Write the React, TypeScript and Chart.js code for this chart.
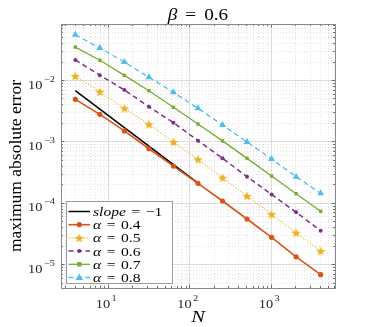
import React, { useEffect, useRef } from "react";
import { Chart, registerables } from "chart.js";

Chart.register(...registerables);

const N = [4, 8, 16, 32, 64, 128, 256, 512, 1024, 2048, 4096];
const slopeN = [4, 128];
const slopeErr = [6.7e-3, 2.09e-4];
const err04 = [4.85e-3, 2.76e-3, 1.48e-3, 7.6e-4, 3.97e-4, 2.08e-4, 1.07e-4, 5.45e-5, 2.74e-5, 1.32e-5, 6.75e-6];
const err05 = [1.16e-2, 6.45e-3, 3.46e-3, 1.9e-3, 9.8e-4, 5.1e-4, 2.57e-4, 1.29e-4, 6.5e-5, 3.26e-5, 1.64e-5];
const err06 = [2.12e-2, 1.2e-2, 6.88e-3, 3.67e-3, 2.02e-3, 1.03e-3, 5.3e-4, 2.66e-4, 1.37e-4, 7.0e-5, 3.52e-5];
const err07 = [3.44e-2, 2.1e-2, 1.19e-2, 6.7e-3, 3.59e-3, 1.92e-3, 1.02e-3, 5.3e-4, 2.73e-4, 1.41e-4, 7.3e-5];
const err08 = [5.47e-2, 3.32e-2, 1.96e-2, 1.11e-2, 6.3e-3, 3.46e-3, 1.85e-3, 9.8e-4, 5.16e-4, 2.66e-4, 1.43e-4];

const xTickExps = [1, 2, 3];
const yTickExps = [-5, -4, -3, -2];
const xMin = 2.67;
const xMax = 6144;
const yMin = 4.1e-6;
const yMax = 0.0817;

const titleParts = [{ t: "β", it: true }, { t: "=", it: false, eq: true }, { t: "0.6", it: false }];
const xLabel = "N";
const yLabel = "maximum absolute error";

const legendEntries = [
  [{ t: "slope", it: true }, { t: "=", it: false, eq: true }, { t: "−1", it: false }],
  [{ t: "α", it: true }, { t: "=", it: false, eq: true }, { t: "0.4", it: false }],
  [{ t: "α", it: true }, { t: "=", it: false, eq: true }, { t: "0.5", it: false }],
  [{ t: "α", it: true }, { t: "=", it: false, eq: true }, { t: "0.6", it: false }],
  [{ t: "α", it: true }, { t: "=", it: false, eq: true }, { t: "0.7", it: false }],
  [{ t: "α", it: true }, { t: "=", it: false, eq: true }, { t: "0.8", it: false }],
];
const seriesLabels = ["slope = −1", "α = 0.4", "α = 0.5", "α = 0.6", "α = 0.7", "α = 0.8"];

const COLORS = ["#000000", "#D95319", "#EDB120", "#7E2F8E", "#77AC30", "#4DBEEE"];
const DASHES: number[][] = [[], [], [1.5, 1.5], [5, 3.5], [], [5, 3.5]];
const WIDTHS = [1.5, 1.6, 1, 1.5, 1.3, 1.3];

const SERIF = '"Liberation Serif", "DejaVu Serif", serif';

type Part = { t: string; it: boolean; eq?: boolean };

function partsWidth(ctx: CanvasRenderingContext2D, parts: Part[], size: number, sx: number, gap: number) {
  let w = 0;
  parts.forEach((p) => {
    ctx.font = `${p.it ? "italic " : ""}${size}px ${SERIF}`;
    w += ctx.measureText(p.t).width * sx;
    if (p.eq) w += 2 * gap;
  });
  return w;
}

function drawParts(ctx: CanvasRenderingContext2D, parts: Part[], x: number, y: number, size: number, sx: number, gap: number, align: "left" | "center") {
  const total = partsWidth(ctx, parts, size, sx, gap);
  let cx = align === "center" ? x - total / 2 : x;
  ctx.save();
  ctx.textAlign = "left";
  parts.forEach((p) => {
    ctx.font = `${p.it ? "italic " : ""}${size}px ${SERIF}`;
    const w = ctx.measureText(p.t).width * sx;
    if (p.eq) cx += gap;
    ctx.save();
    ctx.translate(cx, y);
    ctx.scale(sx, 1);
    ctx.fillText(p.t, 0, 0);
    ctx.restore();
    cx += w;
    if (p.eq) cx += gap;
  });
  ctx.restore();
}

function makeStar(color: string, size: number) {
  const cv = document.createElement("canvas");
  cv.width = size;
  cv.height = size;
  const c = cv.getContext("2d")!;
  const cx = size / 2, cy = size / 2 + 0.5, R = size / 2, r = R * 0.42;
  c.beginPath();
  for (let i = 0; i < 10; i++) {
    const a = -Math.PI / 2 + (i * Math.PI) / 5;
    const rr = i % 2 === 0 ? R : r;
    const px = cx + rr * Math.cos(a), py = cy + rr * Math.sin(a);
    if (i === 0) c.moveTo(px, py); else c.lineTo(px, py);
  }
  c.closePath();
  c.fillStyle = color;
  c.fill();
  return cv;
}

function drawMarker(ctx: CanvasRenderingContext2D, idx: number, x: number, y: number, star: HTMLCanvasElement) {
  const col = COLORS[idx];
  ctx.save();
  ctx.fillStyle = col;
  if (idx === 1) {
    ctx.beginPath(); ctx.arc(x, y, 2.6, 0, Math.PI * 2); ctx.fill();
  } else if (idx === 2) {
    ctx.drawImage(star, x - star.width / 2, y - star.height / 2);
  } else if (idx === 3) {
    ctx.beginPath(); ctx.arc(x, y, 2, 0, Math.PI * 2); ctx.fill();
  } else if (idx === 4) {
    ctx.fillRect(x - 2.2, y - 2.2, 4.4, 4.4);
  } else if (idx === 5) {
    ctx.beginPath(); ctx.moveTo(x, y - 4); ctx.lineTo(x + 3.8, y + 2.6); ctx.lineTo(x - 3.8, y + 2.6); ctx.closePath(); ctx.fill();
  }
  ctx.restore();
}

function drawPow(ctx: CanvasRenderingContext2D, exp: number, x: number, yBase: number, align: "right" | "center") {
  const base = "10";
  const ex = exp < 0 ? "−" + Math.abs(exp) : String(exp);
  const sb = 12.5, sxb = 1.15, se = 9, sxe = 1.15;
  ctx.font = `${sb}px ${SERIF}`;
  const wb = ctx.measureText(base).width * sxb;
  ctx.font = `${se}px ${SERIF}`;
  const we = ctx.measureText(ex).width * sxe;
  const total = wb + 1.5 + we;
  const x0 = align === "right" ? x - total : x - total / 2;
  ctx.save();
  ctx.textAlign = "left";
  ctx.textBaseline = "alphabetic";
  ctx.font = `${sb}px ${SERIF}`;
  ctx.save(); ctx.translate(x0, yBase); ctx.scale(sxb, 1); ctx.fillText(base, 0, 0); ctx.restore();
  ctx.font = `${se}px ${SERIF}`;
  ctx.save(); ctx.translate(x0 + wb + 1.5, yBase - 7); ctx.scale(sxe, 1); ctx.fillText(ex, 0, 0); ctx.restore();
  ctx.restore();
}

export default function App() {
  const ref = useRef<HTMLCanvasElement | null>(null);

  useEffect(() => {
    if (!ref.current) return;
    const star = makeStar(COLORS[2], 10);

    const mk = (xs: number[], ys: number[]) => xs.map((x, i) => ({ x, y: ys[i] }));
    const series = [
      mk(slopeN, slopeErr),
      mk(N, err04),
      mk(N, err05),
      mk(N, err06),
      mk(N, err07),
      mk(N, err08),
    ];

    const pointStyles: any[] = [false, "circle", star, "circle", "rect", "triangle"];
    const pointRadius = [0, 2.6, 5, 2, 2.4, 4];

    const datasets = series.map((d, i) => ({
      label: seriesLabels[i],
      data: d,
      borderColor: COLORS[i],
      backgroundColor: COLORS[i],
      borderWidth: WIDTHS[i],
      borderDash: DASHES[i],
      pointStyle: pointStyles[i],
      pointRadius: pointRadius[i],
      pointBorderWidth: 0,
      pointBackgroundColor: COLORS[i],
      pointBorderColor: COLORS[i],
      tension: 0,
      order: 6 - i,
    }));

    const framePlugin = {
      id: "frame",
      beforeDatasetsDraw(chart: any) {
        const ctx: CanvasRenderingContext2D = chart.ctx;
        const { left, right, top, bottom } = chart.chartArea;
        const xs = chart.scales.x, ys = chart.scales.y;
        ctx.save();
        ctx.fillStyle = "#ffffff";
        ctx.fillRect(left, top, right - left, bottom - top);
        ctx.lineWidth = 1;
        ctx.strokeStyle = "#e2e2e2";
        ctx.setLineDash([1, 2]);
        for (let d = 0; d <= 3; d++) {
          for (let m = 2; m <= 9; m++) {
            const v = m * Math.pow(10, d);
            if (v < xMin || v > xMax) continue;
            const px = Math.round(xs.getPixelForValue(v)) + 0.5;
            ctx.beginPath(); ctx.moveTo(px, top); ctx.lineTo(px, bottom); ctx.stroke();
          }
        }
        for (let d = -6; d <= -2; d++) {
          for (let m = 2; m <= 9; m++) {
            const v = m * Math.pow(10, d);
            if (v < yMin || v > yMax) continue;
            const py = Math.round(ys.getPixelForValue(v)) + 0.5;
            ctx.beginPath(); ctx.moveTo(left, py); ctx.lineTo(right, py); ctx.stroke();
          }
        }
        ctx.setLineDash([]);
        ctx.strokeStyle = "#dcdcdc";
        xTickExps.forEach((e) => {
          const px = Math.round(xs.getPixelForValue(Math.pow(10, e))) + 0.5;
          ctx.beginPath(); ctx.moveTo(px, top); ctx.lineTo(px, bottom); ctx.stroke();
        });
        yTickExps.forEach((e) => {
          const py = Math.round(ys.getPixelForValue(Math.pow(10, e))) + 0.5;
          ctx.beginPath(); ctx.moveTo(left, py); ctx.lineTo(right, py); ctx.stroke();
        });
        ctx.restore();
      },
      afterDatasetsDraw(chart: any) {
        const ctx: CanvasRenderingContext2D = chart.ctx;
        const { left, right, top, bottom } = chart.chartArea;
        const xs = chart.scales.x, ys = chart.scales.y;
        ctx.save();
        ctx.strokeStyle = "#707070";
        ctx.lineWidth = 1;
        const tickX = (v: number, len: number) => {
          const px = Math.round(xs.getPixelForValue(v)) + 0.5;
          ctx.beginPath();
          ctx.moveTo(px, bottom); ctx.lineTo(px, bottom - len);
          ctx.moveTo(px, top); ctx.lineTo(px, top + len);
          ctx.stroke();
        };
        const tickY = (v: number, len: number) => {
          const py = Math.round(ys.getPixelForValue(v)) + 0.5;
          ctx.beginPath();
          ctx.moveTo(left, py); ctx.lineTo(left + len, py);
          ctx.moveTo(right, py); ctx.lineTo(right - len, py);
          ctx.stroke();
        };
        for (let d = 0; d <= 3; d++) for (let m = 1; m <= 9; m++) {
          const v = m * Math.pow(10, d);
          if (v < xMin || v > xMax) continue;
          tickX(v, m === 1 ? 3.5 : 2);
        }
        for (let d = -6; d <= -2; d++) for (let m = 1; m <= 9; m++) {
          const v = m * Math.pow(10, d);
          if (v < yMin || v > yMax) continue;
          tickY(v, m === 1 ? 3.5 : 2);
        }
        ctx.strokeStyle = "#8a8a8a";
        ctx.strokeRect(Math.round(left) + 0.5, Math.round(top) + 0.5, Math.round(right - left), Math.round(bottom - top));

        ctx.fillStyle = "#262626";
        xTickExps.forEach((e) => {
          const px = xs.getPixelForValue(Math.pow(10, e));
          drawPow(ctx, e, px - 1.5, bottom + 19.5, "center");
        });
        yTickExps.forEach((e) => {
          const py = ys.getPixelForValue(Math.pow(10, e));
          drawPow(ctx, e, left - 6, py + 8.5, "right");
        });

        ctx.fillStyle = "#000";
        ctx.textBaseline = "alphabetic";
        const cx = (left + right) / 2;
        drawParts(ctx, titleParts as Part[], cx, 20, 16, 1.2, 8, "center");

        drawParts(ctx, [{ t: xLabel, it: true }], cx, 322, 17, 1.2, 0, "center");

        ctx.save();
        ctx.translate(21, 166);
        ctx.rotate(-Math.PI / 2);
        ctx.font = `17.5px ${SERIF}`;
        ctx.textAlign = "center";
        ctx.fillText(yLabel, 0, 0);
        ctx.restore();

        const lx0 = 66.5, ly0 = 201.5, lw = 106, lh = 82;
        ctx.fillStyle = "#ffffff";
        ctx.fillRect(lx0, ly0, lw, lh);
        ctx.strokeStyle = "#9a9a9a";
        ctx.lineWidth = 1;
        ctx.strokeRect(lx0, ly0, lw, lh);
        legendEntries.forEach((en, i) => {
          const y = 211.5 + i * 13.2;
          ctx.save();
          ctx.strokeStyle = COLORS[i];
          ctx.lineWidth = WIDTHS[i];
          ctx.setLineDash(DASHES[i]);
          ctx.beginPath(); ctx.moveTo(68.5, y); ctx.lineTo(90, y); ctx.stroke();
          ctx.restore();
          drawMarker(ctx, i, 79.3, y, star);
          ctx.fillStyle = "#000";
          ctx.textBaseline = "alphabetic";
          drawParts(ctx, en as Part[], 93, y + 4.5, 13, 1.2, 5.5, "left");
        });
        ctx.restore();
      },
    };

    const chart = new Chart(ref.current, {
      type: "line",
      data: { datasets: datasets as any },
      options: {
        animation: false,
        responsive: false,
        devicePixelRatio: 1,
        layout: { padding: { left: 61, right: 36, top: 24, bottom: 39 } },
        plugins: { legend: { display: false }, tooltip: { enabled: false }, title: { display: false } },
        scales: {
          x: {
            type: "logarithmic",
            min: xMin,
            max: xMax,
            grid: { display: false },
            border: { display: false },
            ticks: { display: false },
            afterFit: (s: any) => { s.height = 0; },
          },
          y: {
            type: "logarithmic",
            min: yMin,
            max: yMax,
            grid: { display: false },
            border: { display: false },
            ticks: { display: false },
            afterFit: (s: any) => { s.width = 0; },
          },
        },
      } as any,
      plugins: [framePlugin],
    });
    return () => chart.destroy();
  }, []);

  return (
    <div style={{ position: "fixed", left: 0, top: 0, width: 371, height: 327, background: "#fff" }}>
      <canvas ref={ref} width={371} height={327} style={{ width: 371, height: 327, display: "block" }} />
    </div>
  );
}
